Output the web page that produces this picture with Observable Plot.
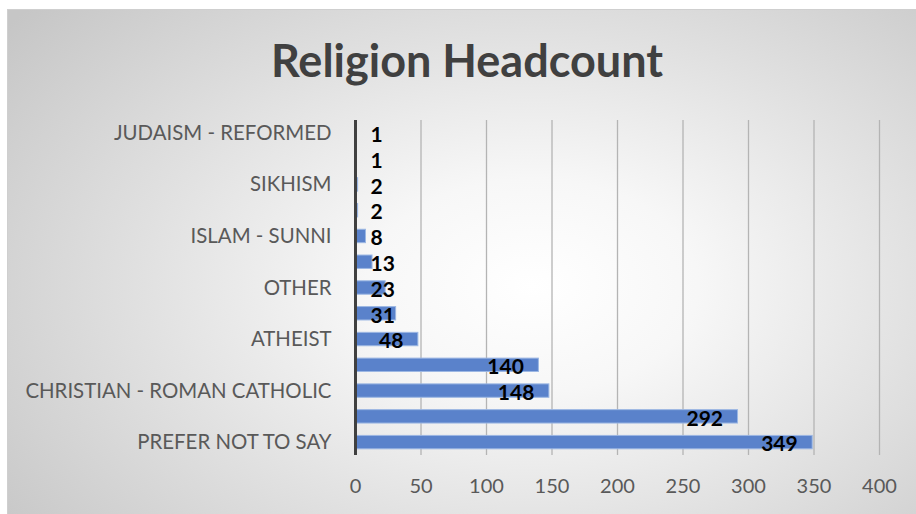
<!DOCTYPE html>
<html>
<head>
<meta charset="utf-8">
<script src="https://cdn.jsdelivr.net/npm/d3@7"></script>
<script src="https://cdn.jsdelivr.net/npm/@observablehq/plot@0.6"></script>
<style>
  html, body { margin: 0; padding: 0; background: #ffffff; }
  #chart { position: relative; width: 916px; height: 514px; overflow: hidden; font-family: Lato, "Open Sans", sans-serif; }
  #frame { position: absolute; left: 7px; top: 9px; width: 920px; height: 520px; border: 1px solid #cfcfcf;
    background: radial-gradient(ellipse 72% 82% at 57% 53%, #ffffff 0%, #f7f7f7 25%, #e0e0e0 60%, #c6c6c6 100%); }
  #title { position: relative; height: 77px; padding-top: 33px; padding-left: 18px; text-align: center;
    font-size: 45px; line-height: 54px; font-weight: 700; color: #404040; box-sizing: content-box; }
  #chart svg { position: relative; display: block; }
</style>
</head>
<body>
<div id="chart">
  <div id="frame"></div>
  <div id="title">Religion Headcount</div>
</div>
<script>
// Categories top to bottom (only every other label is shown in the original chart)
const categoryLabels = ["JUDAISM - REFORMED", "", "SIKHISM", "", "ISLAM - SUNNI", "", "OTHER", "", "ATHEIST", "", "CHRISTIAN - ROMAN CATHOLIC", "", "PREFER NOT TO SAY"];
const headcounts = [1, 1, 2, 2, 8, 13, 23, 31, 48, 140, 148, 292, 349];
const xTicks = [0, 50, 100, 150, 200, 250, 300, 350, 400];

const data = headcounts.map((v, i) => ({idx: i, label: categoryLabels[i], value: v}));
const order = data.map(d => d.idx);

const chart = Plot.plot({
  width: 916,
  height: 404,
  marginTop: 10,
  marginBottom: 59,
  marginLeft: 355,
  marginRight: 37,
  style: {fontFamily: "Lato, 'Open Sans', sans-serif", background: "transparent", overflow: "visible"},
  x: {domain: [0, 400], ticks: xTicks, label: null},
  y: {domain: order, paddingInner: 0.48, paddingOuter: 0.24, round: false, label: null},
  marks: [
    Plot.gridX(xTicks.slice(1), {stroke: "#b4b4b4", strokeOpacity: 1, strokeWidth: 1.3}),
    Plot.barX(data, {x: "value", y: "idx", fill: "#5a82cb", stroke: "#9cb7e3", strokeWidth: 1}),
    Plot.ruleX([0], {stroke: "#404040", strokeWidth: 3}),
    Plot.axisX(xTicks, {anchor: "bottom", label: null, tickSize: 0, tickPadding: 23, fontSize: 20, fill: "#595959", tickFormat: d => String(d)}),
    Plot.axisY(order, {anchor: "left", label: null, tickSize: 0, tickPadding: 24, fontSize: 20.4, fill: "#595959", tickFormat: i => categoryLabels[i]}),
    Plot.text(data.filter(d => d.value >= 40), {x: "value", y: "idx", text: d => String(d.value), textAnchor: "end", dx: -15, dy: 2, fontSize: 21, fontWeight: 700, fill: "#000000"}),
    Plot.text(data.filter(d => d.value < 40), {x: 0, y: "idx", text: d => String(d.value), textAnchor: "start", dx: 15, dy: 2, fontSize: 21, fontWeight: 700, fill: "#000000"})
  ]
});
document.getElementById("chart").appendChild(chart);
</script>
</body>
</html>
